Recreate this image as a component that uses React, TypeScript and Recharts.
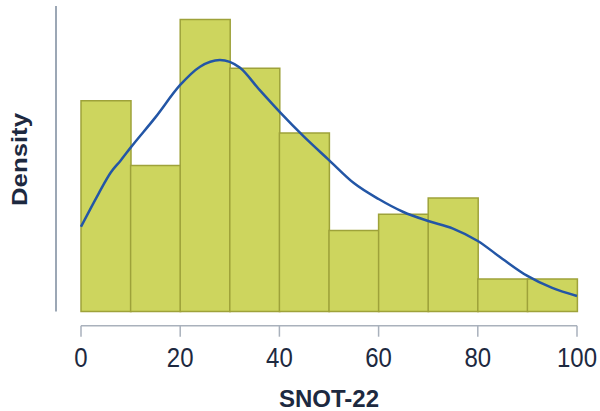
import { ComposedChart, Bar, Line, XAxis, YAxis, Label } from "recharts";

// histogram bins (counts), 10-wide bins from 0 to 100
const binLabels = ["0-10", "10-20", "20-30", "30-40", "40-50", "50-60", "60-70", "70-80", "80-90", "90-100"];
const binCounts = [13, 9, 18, 15, 11, 5, 6, 7, 2, 2];
const total = binCounts.reduce((a, b) => a + b, 0);

// kernel density estimate
const kdeX = [0, 3.5, 6, 8, 10, 15, 20, 24, 28, 32, 36, 40, 45, 50, 55, 60, 65, 70, 75, 80, 85, 90, 95, 100];
const kdeY = [
  0.00594, 0.00823, 0.00974, 0.01058, 0.01148, 0.0136, 0.01587, 0.01715, 0.01762, 0.01709, 0.01552, 0.014,
  0.01223, 0.01061, 0.009, 0.00788, 0.00697, 0.00634, 0.00581, 0.00494, 0.00368, 0.00249, 0.00165, 0.00109,
];
const xTicks = [0, 20, 40, 60, 80, 100];

const bins = binLabels.map((bin, i) => ({ bin, density: binCounts[i] / (total * 10) }));
const curve = kdeX.map((x, i) => ({ x, d: kdeY[i] }));

const textColor = "#1d2940";
const font = "'Liberation Sans', Arial, sans-serif";

// the source text is a bit taller than it is wide, so stretch it a little
const TickLabel = ({ x, y, payload }: any) => {
  const base = y + 19;
  return (
    <text
      x={x}
      y={base}
      textAnchor="middle"
      fill={textColor}
      fontSize={24}
      fontFamily={font}
      transform={`translate(0, ${base}) scale(1, 1.15) translate(0, ${-base})`}
    >
      {payload.value}
    </text>
  );
};

const App = () => {
  return (
    <div style={{ position: "absolute", left: 0, top: 0, width: 600, height: 411, background: "#fff" }}>
      <ComposedChart
        width={600}
        height={411}
        data={bins}
        barCategoryGap={0}
        margin={{ top: 6, right: 23, left: 0, bottom: 0 }}
      >
        <XAxis
          xAxisId="num"
          dataKey="x"
          type="number"
          domain={[0, 100]}
          ticks={xTicks}
          height={85.3}
          padding={{ left: 25, right: 0 }}
          axisLine={{ stroke: "#a9b1bc", strokeWidth: 1.5, strokeDasharray: "0 25 496 100" }}
          tickLine={{ stroke: "#a9b1bc", strokeWidth: 1.5 }}
          tickSize={11}
          tickMargin={11}
          tick={<TickLabel />}
        >
          <Label
            content={({ viewBox }: any) => (
              <text
                x={viewBox.x + 25 + (viewBox.width - 25) / 2}
                y={viewBox.y + viewBox.height - 4}
                textAnchor="middle"
                fill={textColor}
                fontSize={24}
                fontWeight="bold"
                fontFamily={font}
              >
                SNOT-22
              </text>
            )}
          />
        </XAxis>
        <XAxis xAxisId="bins" dataKey="bin" type="category" hide height={0} padding={{ left: 25, right: 0 }} />
        <YAxis
          type="number"
          domain={[-0.000995, 0.021402]}
          allowDataOverflow
          width={56}
          tick={false}
          tickLine={false}
          axisLine={{ stroke: "#7b8a9c", strokeWidth: 1.5, strokeDasharray: "305.5 100" }}
        >
          <Label
            content={({ viewBox }: any) => {
              const cx = viewBox.x + 18.5;
              const cy = viewBox.y + 153.5;
              return (
                <text
                  x={cx}
                  y={cy}
                  dy="0.36em"
                  textAnchor="middle"
                  transform={`rotate(-90, ${cx}, ${cy}) translate(${cx}, ${cy}) scale(1.12, 1) translate(${-cx}, ${-cy})`}
                  fill={textColor}
                  fontSize={23}
                  fontWeight="bold"
                  fontFamily={font}
                >
                  Density
                </text>
              );
            }}
          />
        </YAxis>
        <Bar
          xAxisId="bins"
          dataKey="density"
          fill="#cdd55e"
          stroke="#9ea23a"
          strokeWidth={1.5}
          isAnimationActive={false}
        />
        <Line
          xAxisId="num"
          data={curve}
          dataKey="d"
          type="monotone"
          stroke="#2356a6"
          strokeWidth={2.5}
          dot={false}
          activeDot={false}
          isAnimationActive={false}
        />
      </ComposedChart>
    </div>
  );
};

export default App;
